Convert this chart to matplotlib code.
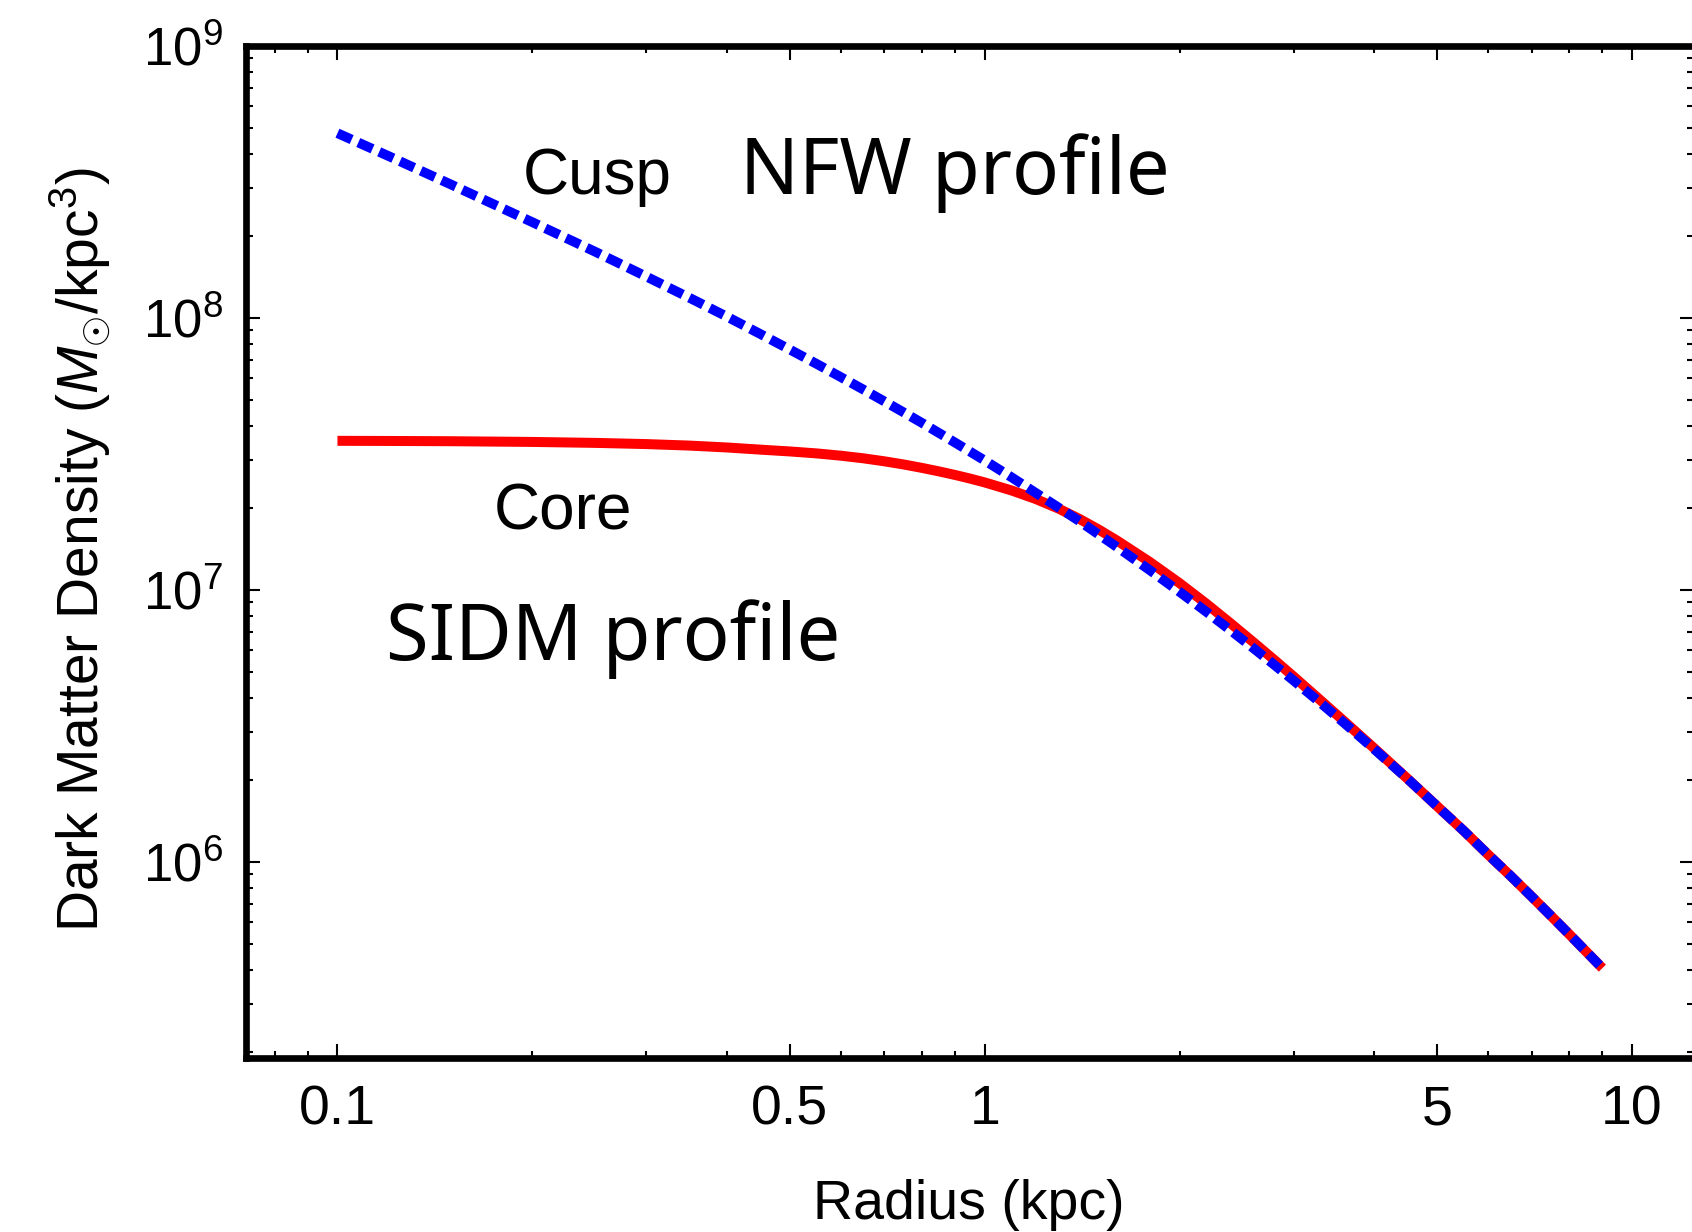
import numpy as np
import matplotlib
matplotlib.use('Agg')
import matplotlib.pyplot as plt
from matplotlib.ticker import FixedLocator, FixedFormatter, LogLocator, NullFormatter

plt.rcParams['font.family'] = ['Liberation Sans', 'DejaVu Sans']
plt.rcParams['mathtext.fontset'] = 'custom'
plt.rcParams['mathtext.rm'] = 'Liberation Sans'
plt.rcParams['mathtext.it'] = 'Liberation Sans:italic'
plt.rcParams['mathtext.bf'] = 'Liberation Sans:bold'

# radius (kpc) sampled along the curves
radius = [0.1, 0.12, 0.15, 0.2, 0.25, 0.3, 0.35, 0.4, 0.45, 0.5, 0.55, 0.6,
          0.65, 0.7, 0.75, 0.8, 0.85, 0.9, 0.95, 1.0, 1.1, 1.2, 1.3, 1.4, 1.5,
          1.6, 1.8, 2.0, 2.2, 2.4, 2.6, 2.8, 3.0, 3.3, 3.6, 4.0, 4.5, 5.0, 5.5,
          6.0, 6.5, 7.0, 7.5, 8.0, 8.5, 9.0]
# cusp (NFW) density
cusp = [4.78e8, 3.936e8, 3.09e8, 2.25e8, 1.753e8, 1.42e8, 1.185e8, 1.01e8,
        8.73e7, 7.65e7, 6.775e7, 6.05e7, 5.446e7, 4.93e7, 4.49e7, 4.11e7,
        3.773e7, 3.479e7, 3.219e7, 2.99e7, 2.594e7, 2.27e7, 2.008e7, 1.79e7,
        1.598e7, 1.438e7, 1.18e7, 9.83e6, 8.30e6, 7.084e6, 6.103e6, 5.302e6,
        4.64e6, 3.843e6, 3.223e6, 2.59e6, 2.018e6, 1.60e6, 1.297e6, 1.06e6,
        8.848e5, 7.44e5, 6.314e5, 5.41e5, 4.667e5, 4.06e5]
# core (SIDM) density
core = [3.532e7, 3.528e7, 3.52e7, 3.499e7, 3.471e7, 3.436e7, 3.392e7, 3.338e7,
        3.278e7, 3.228e7, 3.175e7, 3.113e7, 3.045e7, 2.969e7, 2.89e7, 2.808e7,
        2.726e7, 2.645e7, 2.564e7, 2.483e7, 2.32e7, 2.156e7, 1.99e7, 1.824e7,
        1.666e7, 1.519e7, 1.265e7, 1.058e7, 8.89e6, 7.52e6, 6.42e6, 5.53e6,
        4.80e6, 3.93e6, 3.27e6, 2.61e6, 2.02e6, 1.60e6, 1.297e6, 1.06e6,
        8.848e5, 7.44e5, 6.314e5, 5.41e5, 4.667e5, 4.06e5]

xticks = [0.1, 0.5, 1, 5, 10]
xticklabels = ['0.1', '0.5', '1', '5', '10']
yticks = [1e6, 1e7, 1e8, 1e9]
yticklabels = [r'$10^{6}$', r'$10^{7}$', r'$10^{8}$', r'$10^{9}$']

fig = plt.figure(figsize=(16.92, 12.32), dpi=100)
ax = fig.add_axes([0.1451, 0.14123, 0.8561, 0.8214])

ax.plot(radius, core, color='#ff0000', lw=7.2, solid_capstyle='butt',
        solid_joinstyle='round', zorder=2)
ax.plot(radius, cusp, color='#0000ff', lw=7, ls=(0, (1.6, 0.75)),
        dash_capstyle='butt', zorder=3)

ax.set_xscale('log')
ax.set_yscale('log')
ax.set_xlim(0.0721, 12.47)
ax.set_ylim(1.897e5, 1e9)

ax.xaxis.set_major_locator(FixedLocator(xticks))
ax.xaxis.set_major_formatter(FixedFormatter(xticklabels))
minx = [0.08, 0.09, 0.2, 0.3, 0.4, 0.6, 0.7, 0.8, 0.9, 2, 3, 4, 6, 7, 8, 9]
ax.xaxis.set_minor_locator(FixedLocator(minx))
ax.xaxis.set_minor_formatter(NullFormatter())
ax.yaxis.set_major_locator(FixedLocator(yticks))
ax.yaxis.set_major_formatter(FixedFormatter(yticklabels))
ax.yaxis.set_minor_locator(LogLocator(base=10, subs=np.arange(2, 10)))
ax.yaxis.set_minor_formatter(NullFormatter())

ax.tick_params(which='both', direction='in', top=True, right=True, width=1.5)
ax.tick_params(which='major', length=10)
ax.tick_params(which='minor', length=5)
ax.tick_params(axis='x', which='major', labelsize=40, pad=19)
ax.tick_params(axis='y', which='major', labelsize=38, pad=16)

for side in ['left', 'bottom', 'top', 'right']:
    ax.spines[side].set_linewidth(4.8)

ax.set_xlabel('Radius (kpc)', fontsize=40)
ax.xaxis.set_label_coords(0.4995, -0.12)
ax.set_ylabel(r'Dark Matter Density ($M_{\odot}$/kpc$^3$)', fontsize=41)
ax.yaxis.set_label_coords(-0.0915, 0.502)

ax.text(0.2427, 0.8538, 'Cusp', transform=ax.transAxes, fontsize=46,
        ha='center', va='baseline')
ax.text(0.2192, 0.5227, 'Core', transform=ax.transAxes, fontsize=46,
        ha='center', va='baseline')
ax.text(0.4898, 0.8538, 'NFW profile', transform=ax.transAxes, fontsize=56,
        ha='center', va='baseline', family=['Noto Sans', 'DejaVu Sans'])
ax.text(0.2537, 0.3933, 'SIDM profile', transform=ax.transAxes, fontsize=56,
        ha='center', va='baseline', family=['Noto Sans', 'DejaVu Sans'])

fig.savefig('out.png', dpi=100)
